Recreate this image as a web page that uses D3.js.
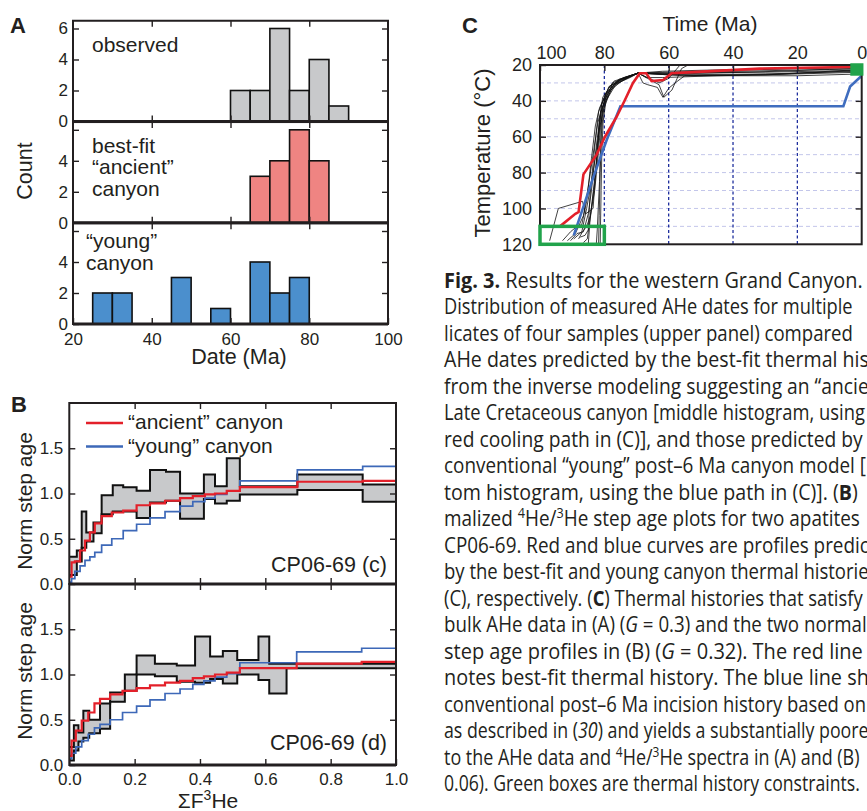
<!DOCTYPE html>
<html>
<head>
<meta charset="utf-8">
<script src="https://cdn.jsdelivr.net/npm/d3@7"></script>
<style>
  body { margin: 0; background: #fff; }
  svg { display: block; }
</style>
</head>
<body>
<svg id="fig" width="867" height="811"></svg>
<script>
// panel A: AHe date histograms (5 Ma bins, value = bin start)
const dateTicks = [20, 40, 60, 80, 100]
const countTicks = [0, 2, 4, 6]
const binWidth = 5
const observedBins = [60, 65, 70, 75, 80, 85]
const observedCounts = [2, 2, 6, 2, 4, 1]
const ancientBins = [65, 70, 75, 80]
const ancientCounts = [3, 4, 6, 4]
const youngBins = [25, 30, 45, 55, 65, 70, 75]
const youngCounts = [2, 2, 3, 1, 4, 2, 3]

// panel B: normalized step ages vs cumulative 3He release
const fracTicks = [0, 0.2, 0.4, 0.6, 0.8, 1.0]
const stepAgeTicks = [0, 0.5, 1.0, 1.5]
const bandCX = [0, .023, .038, .052, .074, .099, .133, .165, .206, .247, .296, .339, .412, .446, .482, .522, .698, .898, 1.0]
const bandCTop = [.30, .37, .80, .57, .68, .98, 1.09, 1.07, 1.03, 1.26, 1.24, 1.00, 1.21, 1.08, 1.39, 1.08, 1.21, 1.10]
const bandCBot = [.10, .25, .40, .47, .56, .77, .80, .80, .73, .90, .92, .72, .94, .89, .92, .99, 1.04, .91]
const modelCX = [0, .007, .017, .033, .048, .063, .078, .099, .13, .165, .206, .247, .293, .339, .378, .415, .446, .482, .522, .698, .898, 1.0]
const ancientC = [.08, .24, .25, .37, .48, .57, .67, .75, .79, .81, .87, .89, .92, .95, .97, .99, 1.00, 1.03, 1.07, 1.13, 1.14]
const youngC = [.02, .06, .14, .20, .26, .30, .35, .43, .50, .59, .66, .73, .80, .86, .91, .95, .99, 1.03, 1.14, 1.26, 1.30]
const bandDX = [0, .014, .028, .043, .061, .094, .125, .17, .206, .262, .329, .385, .431, .47, .514, .579, .612, .665, 1.0]
const bandDTop = [.20, .44, .36, .60, .50, .68, .80, 1.0, 1.21, 1.12, 1.10, 1.42, 1.20, 1.26, 1.16, 1.42, 1.12, 1.12]
const bandDBot = [.05, .16, .26, .30, .35, .40, .70, .82, 1.00, .98, .92, .91, .95, .90, 1.00, .94, .79, 1.07]
const modelDX = [0, .007, .02, .038, .058, .077, .094, .125, .163, .206, .247, .293, .339, .378, .412, .446, .482, .522, .696, .895, 1.0]
const ancientD = [.10, .27, .38, .49, .58, .68, .73, .78, .82, .85, .88, .91, .93, .96, .98, 1.00, 1.02, 1.07, 1.12, 1.14]
const youngD = [.07, .13, .20, .27, .34, .41, .45, .50, .58, .65, .72, .79, .84, .89, .93, .97, 1.01, 1.13, 1.25, 1.29]

// panel C: thermal histories [Ma, degC]
const timeTicks = [100, 80, 60, 40, 20, 0]
const tempTicks = [20, 40, 60, 80, 100, 120]
const tempGrid = [30, 40, 50, 60, 70, 80, 90, 100, 110]
const bestFitPath = [[93.8, 110], [89, 103], [88, 102], [86.5, 81], [82.4, 70], [79.8, 60], [76.2, 49], [73.6, 39.5], [71.1, 30], [69, 24.6], [67, 24.6], [65.3, 29], [61.7, 28.4], [59.1, 24.6], [52.4, 24], [31.7, 22], [0, 21]]
const youngPath = [[89.5, 115], [86.5, 99], [83.5, 83], [79.3, 62], [75, 43], [5.7, 43], [3.6, 32], [0, 26]]
const acceptedPaths = [
  [[97, 118], [94.3, 100], [86.8, 96], [85.8, 103], [83.5, 100], [82.3, 70], [81.5, 50], [80.5, 38], [77, 29], [69.5, 24.5], [60, 25.5], [30, 25], [0, 23.5]],
  [[91.5, 118], [89, 114], [86.5, 104], [85, 88], [83.5, 70], [82, 52], [80, 40], [77.5, 31], [73, 27], [69.5, 24.5], [55, 26], [25, 25], [0, 22.5]],
  [[89.5, 117], [87, 113], [85.5, 100], [84.3, 88], [83, 74], [81.5, 55], [79.5, 40], [76.5, 31], [72.5, 27], [69.5, 24.5], [66, 28], [63, 31], [61.5, 38], [59, 34], [56, 22], [53, 19]],
  [[85, 120], [84.5, 108], [83.8, 96], [82.8, 80], [81.8, 62], [81, 46], [79, 35], [75, 28], [69.5, 24.5], [62, 23.5], [40, 22.5], [0, 21.5]],
  [[88, 117], [86.8, 113], [85.5, 110], [84.3, 104], [83, 86], [82.2, 70], [81.5, 52], [80.8, 42], [78.5, 32], [74, 27], [69.5, 24.5], [67, 27], [62, 27], [45, 26], [20, 25], [0, 24]],
  [[81.3, 121], [81.2, 110], [81, 90], [80.8, 70], [80.4, 52], [79.5, 40], [77.5, 30], [73.5, 27], [69.5, 24.5], [68, 30], [66.5, 31], [63.5, 32.5], [61.8, 38], [60, 33], [58, 30], [55, 26], [30, 25.5], [0, 23]],
  [[93, 118], [90.5, 113], [88.5, 110], [87, 109], [85.5, 96], [84, 72], [82.8, 54], [81.5, 44], [78.5, 32], [74.5, 28], [69.5, 24.5], [60, 24], [20, 22], [0, 21]],
  [[86.5, 119], [85.3, 117], [84.2, 102], [83, 90], [82, 72], [81.2, 55], [80.4, 43], [77, 31], [72, 27], [69.5, 24.5], [62, 25], [50, 24], [0, 22]],
  [[82.5, 120], [82.2, 112], [81.9, 100], [81.5, 85], [81.2, 65], [80.8, 48], [79.5, 36], [75.5, 28], [69.5, 24.5], [67, 24.5], [30, 24], [0, 23]],
  [[90.5, 118], [88.5, 114], [86.5, 113], [85, 103], [84, 90], [83, 73], [82, 58], [81, 46], [79, 36], [76, 30], [69.5, 24.5], [63, 30], [60, 27.5], [56, 19]],
  [[87.5, 116], [86, 115], [85, 112], [84.5, 94], [83.5, 75], [82.5, 57], [81.8, 46], [79.5, 36], [76, 29], [69.5, 24.5], [58, 25], [35, 24], [10, 22.5], [0, 22]],
  [[81.8, 121], [81.6, 104], [81.3, 80], [80.9, 58], [80.3, 45], [78, 34], [74, 28], [69.5, 24.5], [50, 26], [20, 26], [0, 25]]
]
const constraintBoxes = [{t0: 100, t1: 80, T0: 110, T1: 120, filled: false}, {t0: 3, t1: 0, T0: 20, T1: 25, filled: true}]

// caption lines (only the part visible in the frame), segment style: b bold, i italic, s superscript
const captionLines = [
  [[["Fig. 3.", "b"], [" Results for the western Grand Canyon."]], 863],
  [[["Distribution of measured AHe dates for multiple"]], 853],
  [[["licates of four samples (upper panel) compared"]], 853],
  [[["AHe dates predicted by the best-fit thermal his"]], 869],
  [[["from the inverse modeling suggesting an \u201cancie"]], 869],
  [[["Late Cretaceous canyon [middle histogram, using"]], 865],
  [[["red cooling path in (C)], and those predicted by"]], 863],
  [[["conventional \u201cyoung\u201d post\u20136 Ma canyon model ["]], 866],
  [[["tom histogram, using the blue path in (C)]. ("], ["B", "b"], [")"]], 858],
  [[["malized "], ["4", "s"], ["He/"], ["3", "s"], ["He step age plots for two apatites"]], 860],
  [[["CP06-69. Red and blue curves are profiles predic"]], 869],
  [[["by the best-fit and young canyon thermal historie"]], 869],
  [[["(C), respectively. ("], ["C", "b"], [") Thermal histories that satisfy"]], 863],
  [[["bulk AHe data in (A) ("], ["G", "i"], [" = 0.3) and the two normal"]], 867],
  [[["step age profiles in (B) ("], ["G", "i"], [" = 0.32). The red line"]], 863],
  [[["notes best-fit thermal history. The blue line sh"]], 869],
  [[["conventional post\u20136 Ma incision history based on"]], 866],
  [[["as described in ("], ["30", "i"], [") and yields a substantially poore"]], 869],
  [[["to the AHe data and "], ["4", "s"], ["He/"], ["3", "s"], ["He spectra in (A) and (B)"]], 860],
  [[["0.06). Green boxes are thermal history constraints."]], 860]
]

const ink = '#231f20'
const font = '"Liberation Sans", Arial, Helvetica, sans-serif'
const svg = d3.select('#fig').attr('font-family', font).attr('fill', ink)

function styleAxis(g, size) {
  g.attr('font-family', font).attr('font-size', size).attr('color', ink)
  g.select('.domain').remove()
  g.selectAll('.tick line').attr('stroke-width', 1.4)
  g.selectAll('.tick text').attr('fill', ink)
}

function addText(x, y, str, size, opts = {}) {
  const t = svg.append('text').attr('x', x).attr('y', y).attr('font-size', size).text(str)
  if (opts.anchor) t.attr('text-anchor', opts.anchor)
  if (opts.bold) t.attr('font-weight', 'bold')
  return t
}

function addRotated(x, y, str, size) {
  svg.append('text').attr('transform', `translate(${x},${y}) rotate(-90)`)
    .attr('text-anchor', 'middle').attr('font-size', size).text(str)
}

// ---------------- A ----------------
addText(10, 33, 'A', 22, {bold: true})
const ax = d3.scaleLinear().domain([20, 100]).range([73, 388])
const histPanels = [
  {bins: observedBins, counts: observedCounts, fill: '#c8c9cb', bottom: 121.5, text: ['observed'], tx: 92, ty: 52, labels: [0, 2, 4, 6]},
  {bins: ancientBins, counts: ancientCounts, fill: '#ef8482', bottom: 222.8, text: ['best-fit', '\u201cancient\u201d', 'canyon'], tx: 92, ty: 152.5, labels: [0, 2, 4]},
  {bins: youngBins, counts: youngCounts, fill: '#4b8fcd', bottom: 324, text: ['\u201cyoung\u201d', 'canyon'], tx: 86, ty: 248, labels: [0, 2, 4]}
]
const histH = 100.75
histPanels.forEach((p, i) => {
  const top = p.bottom - histH
  const y = d3.scaleLinear().domain([0, 6.5]).range([p.bottom, top])
  const g = svg.append('g')
  g.selectAll('rect').data(p.bins).join('rect')
    .attr('x', d => ax(d)).attr('width', d => ax(d + binWidth) - ax(d))
    .attr('y', (d, j) => y(p.counts[j])).attr('height', (d, j) => y(0) - y(p.counts[j]))
    .attr('fill', p.fill).attr('stroke', '#111').attr('stroke-width', 1.6)

  svg.append('g').attr('transform', 'translate(73,0)')
    .call(d3.axisLeft(y).tickValues(countTicks).tickSize(-6).tickPadding(5)
      .tickFormat(d => p.labels.includes(d) ? d : ''))
    .call(g => styleAxis(g, 17))
  svg.append('g').attr('transform', 'translate(388,0)')
    .call(d3.axisRight(y).tickValues(countTicks.slice(1)).tickSize(-6).tickFormat(''))
    .call(g => styleAxis(g, 17))
  svg.append('g').attr('transform', `translate(0,${top})`)
    .call(d3.axisTop(ax).tickValues([40, 60, 80]).tickSize(-6).tickFormat(''))
    .call(g => styleAxis(g, 17))
  svg.append('g').attr('transform', `translate(0,${p.bottom})`)
    .call(d3.axisBottom(ax).tickValues(i === 2 ? dateTicks : [40, 60, 80]).tickSize(-6).tickPadding(9)
      .tickFormat(i === 2 ? d3.format('d') : ''))
    .call(g => styleAxis(g, 17))

  svg.append('rect').attr('x', 73).attr('y', top).attr('width', 315).attr('height', histH)
    .attr('fill', 'none').attr('stroke', ink).attr('stroke-width', 2)
  svg.append('line').attr('x1', 73).attr('x2', 388).attr('y1', p.bottom).attr('y2', p.bottom)
    .attr('stroke', ink).attr('stroke-width', 3)

  p.text.forEach((s, k) => addText(p.tx, p.ty + k * 21.5, s, 21))
})
addRotated(31.5, 171, 'Count', 21.5)
addText(239, 364, 'Date (Ma)', 21.5, {anchor: 'middle'})

// ---------------- B ----------------
addText(11, 412, 'B', 22, {bold: true})
const bx = d3.scaleLinear().domain([0, 1]).range([69.3, 396])
const stepPanels = [
  {top: 403, bandX: bandCX, bandTop: bandCTop, bandBot: bandCBot, mx: modelCX, red: ancientC, blue: youngC, name: 'CP06-69 (c)', ny: 572, ly: 501},
  {top: 584, bandX: bandDX, bandTop: bandDTop, bandBot: bandDBot, mx: modelDX, red: ancientD, blue: youngD, name: 'CP06-69 (d)', ny: 750, ly: 671}
]
const stepH = 181
function stepPoints(xs, vals) {
  const pts = xs.slice(0, -1).map((x, i) => [x, vals[i]])
  pts.push([xs[xs.length - 1], vals[vals.length - 1]])
  return pts
}
stepPanels.forEach((p, i) => {
  const bottom = p.top + stepH
  const y = d3.scaleLinear().domain([0, 2]).range([bottom, p.top])
  const band = p.bandX.map((x, k) => ({x, hi: p.bandTop[Math.min(k, p.bandTop.length - 1)], lo: p.bandBot[Math.min(k, p.bandBot.length - 1)]}))
  svg.append('path').datum(band)
    .attr('d', d3.area().curve(d3.curveStepAfter).x(d => bx(d.x)).y0(d => y(d.lo)).y1(d => y(d.hi)))
    .attr('fill', '#c8c9cb')
  const line = d3.line().curve(d3.curveStepAfter).x(d => bx(d[0])).y(d => y(d[1]))
  svg.append('path').datum(band.map(d => [d.x, d.hi])).attr('d', line)
    .attr('fill', 'none').attr('stroke', '#111').attr('stroke-width', 2)
  svg.append('path').datum(band.map(d => [d.x, d.lo])).attr('d', line)
    .attr('fill', 'none').attr('stroke', '#111').attr('stroke-width', 2)
  svg.append('path').datum(stepPoints(p.mx, p.blue)).attr('d', line)
    .attr('fill', 'none').attr('stroke', '#3d68b8').attr('stroke-width', 1.7)
  svg.append('path').datum(stepPoints(p.mx, p.red)).attr('d', line)
    .attr('fill', 'none').attr('stroke', '#e3202a').attr('stroke-width', 2.2)

  svg.append('g').attr('transform', 'translate(69.3,0)')
    .call(d3.axisLeft(y).tickValues(stepAgeTicks).tickSize(-6).tickPadding(6).tickFormat(d3.format('.1f')))
    .call(g => styleAxis(g, 17))
  svg.append('g').attr('transform', 'translate(396,0)')
    .call(d3.axisRight(y).tickValues(stepAgeTicks.slice(1)).tickSize(-6).tickFormat(''))
    .call(g => styleAxis(g, 17))
  svg.append('g').attr('transform', `translate(0,${p.top})`)
    .call(d3.axisTop(bx).tickValues(fracTicks.slice(1, -1)).tickSize(-6).tickFormat(''))
    .call(g => styleAxis(g, 17))
  svg.append('g').attr('transform', `translate(0,${bottom})`)
    .call(d3.axisBottom(bx).tickValues(i === 1 ? fracTicks : fracTicks.slice(1, -1)).tickSize(-6).tickPadding(8)
      .tickFormat(i === 1 ? d3.format('.1f') : ''))
    .call(g => styleAxis(g, 17))
  svg.append('rect').attr('x', 69.3).attr('y', p.top).attr('width', 326.7).attr('height', stepH)
    .attr('fill', 'none').attr('stroke', ink).attr('stroke-width', 2)
  svg.append('line').attr('x1', 69.3).attr('x2', 396).attr('y1', bottom).attr('y2', bottom)
    .attr('stroke', ink).attr('stroke-width', 3)

  addText(387, p.ny, p.name, 21.5, {anchor: 'end'})
  addRotated(31.5, p.ly, 'Norm step age', 21)
})
// legend
;[['#e3202a', '\u201cancient\u201d canyon', 423], ['#3d68b8', '\u201cyoung\u201d canyon', 446.5]].forEach(([c, s, yy]) => {
  svg.append('line').attr('x1', 86).attr('x2', 123).attr('y1', yy).attr('y2', yy)
    .attr('stroke', c).attr('stroke-width', 2.6)
  addText(128, yy + 6, s, 21)
})
const sigma = addText(208, 808, '\u03a3F', 21, {anchor: 'middle'})
sigma.append('tspan').attr('dy', -8).attr('font-size', 14).text('3')
sigma.append('tspan').attr('dy', 8).text('He')

// ---------------- C ----------------
addText(462, 33, 'C', 22, {bold: true})
const cx = d3.scaleLinear().domain([100, 0]).range([540, 861.7])
const cy = d3.scaleLinear().domain([20, 120]).range([65, 244.3])
svg.append('clipPath').attr('id', 'clipC').append('rect')
  .attr('x', cx(100)).attr('y', cy(20)).attr('width', cx(0) - cx(100)).attr('height', cy(120) - cy(20))
const gc = svg.append('g').attr('clip-path', 'url(#clipC)')
gc.selectAll('line.hgrid').data(tempGrid).join('line').attr('class', 'hgrid')
  .attr('x1', cx(100)).attr('x2', cx(0)).attr('y1', d => cy(d)).attr('y2', d => cy(d))
  .attr('stroke', '#c3c6ea').attr('stroke-width', 1).attr('stroke-dasharray', '4,3')
gc.selectAll('line.vgrid').data(timeTicks.slice(1, -1)).join('line').attr('class', 'vgrid')
  .attr('x1', d => cx(d)).attr('x2', d => cx(d)).attr('y1', cy(20)).attr('y2', cy(120))
  .attr('stroke', '#1f2f9e').attr('stroke-width', 1.3).attr('stroke-dasharray', '3,2.5')
const tLine = d3.line().x(d => cx(d[0])).y(d => cy(d[1]))
gc.selectAll('path.acc').data(acceptedPaths).join('path').attr('class', 'acc')
  .attr('d', tLine).attr('fill', 'none').attr('stroke', '#111').attr('stroke-width', 0.8)
gc.append('path').datum(youngPath).attr('d', tLine)
  .attr('fill', 'none').attr('stroke', '#3f6dbf').attr('stroke-width', 2.6)
gc.append('path').datum(bestFitPath).attr('d', tLine)
  .attr('fill', 'none').attr('stroke', '#e3202a').attr('stroke-width', 2.6)

svg.append('g').attr('transform', `translate(0,${cy(20)})`)
  .call(d3.axisTop(cx).tickValues(timeTicks).tickSize(-6).tickPadding(6))
  .call(g => styleAxis(g, 18))
  .call(g => g.selectAll('.tick text').filter(d => d === 100).attr('dx', 11))
svg.append('g').attr('transform', `translate(${cx(100)},0)`)
  .call(d3.axisLeft(cy).tickValues(tempTicks).tickSize(-6).tickPadding(8))
  .call(g => styleAxis(g, 18))
svg.append('g').attr('transform', `translate(${cx(0)},0)`)
  .call(d3.axisRight(cy).tickValues(tempTicks.slice(1, -1)).tickSize(-6).tickFormat(''))
  .call(g => styleAxis(g, 18))
svg.append('rect').attr('x', cx(100)).attr('y', cy(20)).attr('width', cx(0) - cx(100)).attr('height', cy(120) - cy(20))
  .attr('fill', 'none').attr('stroke', ink).attr('stroke-width', 2)

constraintBoxes.forEach(b => {
  svg.append('rect').attr('x', cx(b.t0)).attr('y', cy(b.T0))
    .attr('width', cx(b.t1) - cx(b.t0)).attr('height', cy(b.T1) - cy(b.T0))
    .attr('fill', b.filled ? '#21a34b' : 'none').attr('stroke', '#21a34b').attr('stroke-width', 3.5)
})
addText(710, 31, 'Time (Ma)', 21, {anchor: 'middle'})
addRotated(490, 153, 'Temperature (\u00b0C)', 22)

// ---------------- caption ----------------
// each line is squeezed horizontally so it ends where the reference line ends
const cap = svg.append('g').attr('font-family', '"Open Sans", "Noto Sans", sans-serif').attr('font-size', 21)
captionLines.forEach(([segs, endX], i) => {
  const t = cap.append('text').attr('x', 0).attr('y', 288 + i * 26.5)
  let raised = false
  segs.forEach(([s, st]) => {
    const ts = t.append('tspan').text(s)
    if (st === 'b') ts.attr('font-weight', 'bold')
    if (st === 'i') ts.attr('font-style', 'italic')
    if (st === 's') { ts.attr('font-size', 14).attr('dy', -8); raised = true }
    else if (raised) { ts.attr('dy', 8); raised = false }
  })
  const w = t.node().getComputedTextLength()
  t.attr('transform', `translate(444,0) scale(${(endX - 444) / w},1)`)
})
</script>
</body>
</html>
